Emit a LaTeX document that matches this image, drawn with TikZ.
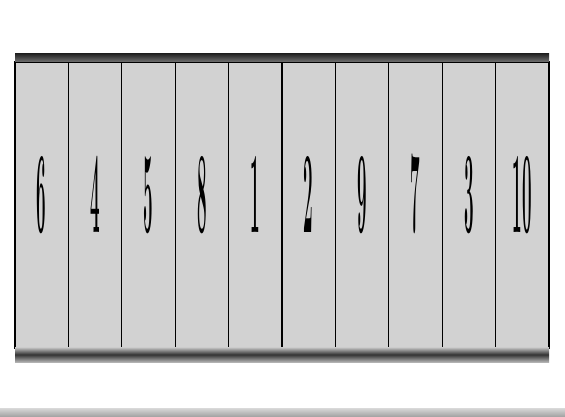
\documentclass[tikz,border=0pt]{standalone}
\usetikzlibrary{positioning}
\newcommand{\tall}[1]{\raisebox{-28pt}[0pt][0pt]{\scalebox{0.85}[5.8]{\bfseries #1}}}
\begin{document}
\begin{tikzpicture}[x=1pt,y=1pt,
  cell/.style={draw=black,line width=1.2pt,fill=gray!35,minimum width=53.4pt,minimum height=286pt,inner sep=0pt,outer sep=0pt,font=\fontsize{20}{20}\selectfont}]
  \useasboundingbox (0,0) rectangle (565,416);
  % the row of cells
  \node[cell,anchor=south west] (c1) at (15,68) {\tall{6}};
  \foreach \n [count=\i from 2, evaluate=\i as \j using int(\i-1)] in {4,5,8,1,2,9,7,3,10}
    \node[cell,right=0pt of c\j] (c\i) {\tall{\n}};
  % top and bottom bars
  \shade[top color=black!85,bottom color=black!55] (c1.north west) rectangle ([yshift=8pt]c10.north east);
  \shade[top color=gray!40,bottom color=gray!60,middle color=black!80] ([yshift=-14pt]c1.south west) rectangle ([yshift=1pt]c10.south east);
  % floor line
  \shade[top color=gray!30,bottom color=gray!70] (0,0) rectangle (565,8);
\end{tikzpicture}
\end{document}
